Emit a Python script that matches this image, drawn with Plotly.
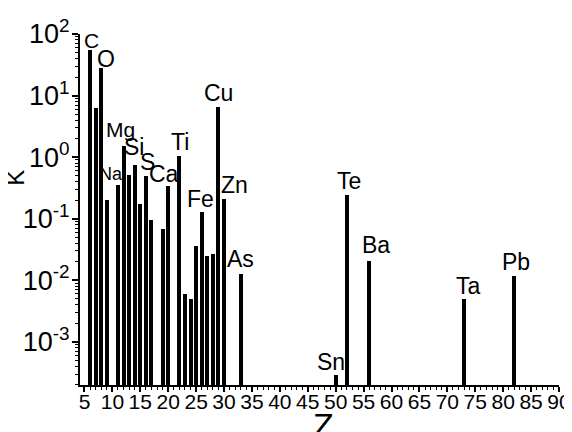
import math
import plotly.graph_objects as go

# ---- data ----
z_values = [6, 7, 8, 9, 11, 12, 13, 14, 15, 16, 17, 19, 20, 22, 23, 24, 25, 26,
            27, 28, 29, 30, 33, 50, 52, 56, 73, 82]
k_values = [55, 6.2, 28.4, 0.20, 0.354, 1.52, 0.51, 0.746, 0.174, 0.496, 0.095,
            0.0676, 0.34, 1.05, 0.006, 0.005, 0.0366, 0.127, 0.025, 0.027, 6.6,
            0.207, 0.0127, 0.00029, 0.243, 0.0206, 0.0049, 0.0117]

label_names = ["C", "O", "Na", "Mg", "Si", "S", "Ca", "Ti", "Fe", "Cu", "Zn",
               "As", "Sn", "Te", "Ba", "Ta", "Pb"]
label_z = [6, 8, 11, 12, 14, 16, 20, 22, 26, 29, 30, 33, 50, 52, 56, 73, 82]

x_tick_vals = list(range(5, 91, 5))
x_tick_text = [str(v) for v in x_tick_vals]
y_tick_exp = [-3, -2, -1, 0, 1, 2]
y_tick_vals = [10.0 ** e for e in y_tick_exp]
y_tick_text = ["10<sup>%d</sup>" % e for e in y_tick_exp]

# ---- label placement (pixel shifts relative to bar tops) ----
label_dx = {"C": 1, "O": 4.5, "Na": -7, "Mg": -3, "Si": -1, "S": 2, "Ca": -4,
            "Ti": 0.5, "Fe": -1, "Cu": 0, "Zn": 10.5, "As": 0, "Sn": -5,
            "Te": 2.5, "Ba": 7, "Ta": 4, "Pb": 2}
label_gap = {"C": 2, "O": 1, "Na": 5, "Mg": 9, "Si": 10, "S": 6, "Ca": 4,
             "Ti": 6, "Fe": 5.5, "Cu": 6, "Zn": 6.5, "As": 7, "Sn": 5,
             "Te": 5.5, "Ba": 8, "Ta": 5, "Pb": 6}
label_size = {"Na": 18, "C": 21, "Mg": 21}

FONT = "Liberation Sans, Arial, sans-serif"
LBL = 23

k_by_z = dict(zip(z_values, k_values))

fig = go.Figure()
fig.add_trace(go.Bar(x=z_values, y=k_values, width=0.72,
                     marker=dict(color="black", line=dict(width=0))))

annotations = []
for name, z in zip(label_names, label_z):
    s = label_size.get(name, LBL)
    base_off = 0.212 * s + 2
    annotations.append(dict(
        x=z, y=math.log10(k_by_z[z]), xref="x", yref="y",
        text=name, showarrow=False, xanchor="center", yanchor="bottom",
        xshift=label_dx[name], yshift=label_gap[name] - base_off,
        font=dict(family=FONT, size=s, color="black")))

# axis titles
annotations.append(dict(x=-0.134, y=0.59, xref="paper", yref="paper", text="K",
                        textangle=-90, showarrow=False, xanchor="center", yanchor="middle",
                        font=dict(family=FONT, size=24, color="black")))
annotations.append(dict(x=(323 - 80) / 478.6, y=-0.0535, xref="paper", yref="paper", text="Z",
                        showarrow=False, xanchor="center", yanchor="top",
                        font=dict(family=FONT, size=34, color="black")))

# the page body adds an 8 px offset; the figure is sized so it ends at the window edge
fig.update_layout(
    width=564, height=424,
    margin=dict(l=72, r=13, t=26, b=47),
    paper_bgcolor="white", plot_bgcolor="white",
    showlegend=False, bargap=0,
    annotations=annotations,
    font=dict(family=FONT, color="black"),
)
fig.update_xaxes(
    range=[4.2, 90], showgrid=False, zeroline=False, automargin=False,
    showline=True, linecolor="black", linewidth=2,
    tickmode="array", tickvals=x_tick_vals, ticktext=x_tick_text,
    ticks="outside", ticklen=5, tickwidth=1.5, tickcolor="black",
    ticklabelstandoff=-8,
    tickfont=dict(family=FONT, size=21, color="black"),
    minor=dict(dtick=1, tick0=5, ticks="outside", ticklen=3, tickwidth=1.2,
               tickcolor="black", showgrid=False),
)
fig.update_yaxes(
    type="log", range=[-3.7, 2], showgrid=False, zeroline=False, automargin=False,
    showline=True, linecolor="black", linewidth=2,
    tickmode="array", tickvals=y_tick_vals, ticktext=y_tick_text,
    ticks="outside", ticklen=6, tickwidth=1.5, tickcolor="black",
    ticklabelstandoff=-3,
    tickfont=dict(family=FONT, size=27, color="black"),
    minor=dict(dtick="D1", ticks="outside", ticklen=3, tickwidth=1.2,
               tickcolor="black", showgrid=False),
)

fig.write_html("out.html")
